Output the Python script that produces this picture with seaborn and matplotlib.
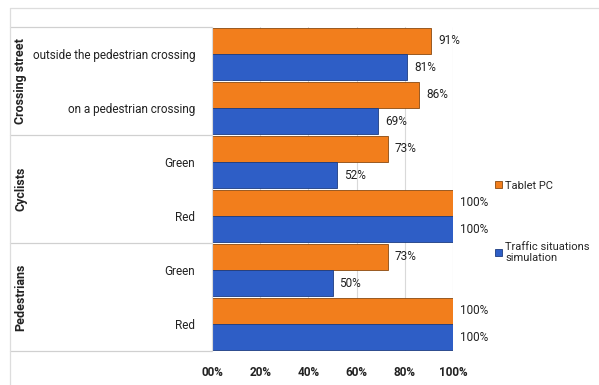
import matplotlib
matplotlib.use("Agg")
import matplotlib.pyplot as plt
import matplotlib.transforms as mtransforms
import seaborn as sns
import pandas as pd

categories = ["outside the pedestrian crossing", "on a pedestrian crossing",
              "Green", "Red", "Green ", "Red "]
tick_labels = ["outside the pedestrian crossing", "on a pedestrian crossing",
               "Green", "Red", "Green", "Red"]
groups = ["Crossing street", "Cyclists", "Pedestrians"]
series_names = ["Tablet PC", "Traffic situations\nsimulation"]
tablet_pc = [91, 86, 73, 100, 73, 100]
simulation = [81, 69, 52, 100, 50, 100]
x_ticks = [0, 20, 40, 60, 80, 100]
x_tick_labels = ["00%", "20%", "40%", "60%", "80%", "100%"]

df = pd.DataFrame({
    "cat": categories * 2,
    "value": tablet_pc + simulation,
    "series": [series_names[0]] * 6 + [series_names[1]] * 6,
})

sns.set_style("white")
plt.rcParams['font.family'] = ['Roboto', 'DejaVu Sans']

fig = plt.figure(figsize=(5.99, 3.85), dpi=100)
ax = fig.add_axes([212/599, 1-351/385, (453-212)/599, (351-27)/385])

orange = "#F27E1C"
blue = "#2E5EC6"
sns.barplot(data=df, y="cat", x="value", hue="series", order=categories,
            hue_order=series_names, palette=[orange, blue], width=0.98,
            orient="h", ax=ax, legend=False, saturation=1,
            edgecolor=None, linewidth=0)

for i, cont in enumerate(ax.containers):
    for bar in cont:
        bar.set_edgecolor("#8a4a10" if i == 0 else "#1d3c80")
        bar.set_linewidth(0.6)
    ax.bar_label(cont, labels=[f"{v}%" for v in (tablet_pc, simulation)[i]],
                 padding=5, fontsize=8.5, color="#222222")

ax.set_xlim(0, 100)
ax.set_ylim(5.5, -0.5)
ax.set_xticks(x_ticks)
ax.set_xticklabels(x_tick_labels, fontsize=8.5, fontweight="bold", color="#222222")
ax.set_yticks(range(6))
ax.set_yticklabels(tick_labels, fontsize=8.5, color="#222222")
ax.tick_params(axis="both", length=0)
ax.tick_params(axis="y", pad=12)
ax.tick_params(axis="x", pad=11)
ax.set_xlabel("")
ax.set_ylabel("")
ax.xaxis.grid(True, color="#d9d9d9", linewidth=0.8)
ax.set_axisbelow(True)
for s in ["top", "right", "bottom"]:
    ax.spines[s].set_visible(False)
ax.spines["left"].set_color("#d9d9d9")

# group separators and labels
trans = mtransforms.blended_transform_factory(ax.transAxes, ax.transData)
x_left = (10 - 212) / 241
for yb in [-0.5, 1.5, 3.5, 5.5]:
    ax.plot([x_left, 0], [yb, yb], color="#d0d0d0", linewidth=0.9,
            transform=trans, clip_on=False)
for g, yc in zip(groups, [0.5, 2.5, 4.5]):
    ax.text((21 - 212) / 241, yc, g, rotation=90, ha="center", va="center",
            fontsize=9, fontweight="bold", transform=trans, color="#222222")

# outer chart border (top and left)
fig.add_artist(plt.Line2D([10/599, 1], [1-8/385, 1-8/385], color="#dddddd",
                          linewidth=0.9, transform=fig.transFigure))
fig.add_artist(plt.Line2D([10/599, 10/599], [0, 1-8/385], color="#dddddd",
                          linewidth=0.9, transform=fig.transFigure))

handles = [plt.Rectangle((0, 0), 1, 1, facecolor=orange, edgecolor="#8a4a10", linewidth=0.6),
           plt.Rectangle((0, 0), 1, 1, facecolor=blue, edgecolor="#1d3c80", linewidth=0.6)]
fig.legend(handles, series_names, loc="center left",
           bbox_to_anchor=(485/599, 1-222/385), frameon=False,
           fontsize=8, handlelength=0.6, handleheight=0.6,
           handletextpad=0.3, labelspacing=4.6)

fig.savefig("out.png", dpi=100)
